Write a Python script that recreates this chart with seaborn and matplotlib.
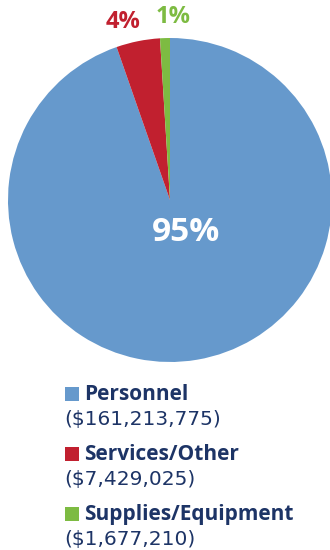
import matplotlib
matplotlib.use("Agg")
import matplotlib.pyplot as plt
import seaborn as sns

categories = ["Personnel", "Services/Other", "Supplies/Equipment"]
amounts = [161213775, 7429025, 1677210]
colors = ["#6699cc", "#c1202f", "#7dbb42"]
navy = "#1d3466"

sns.set_style("white")
plt.rcParams["font.family"] = ["Open Sans", "DejaVu Sans"]

W, H = 330, 550
fig = plt.figure(figsize=(W / 100, H / 100), dpi=100)
ax = fig.add_axes([8 / W, 188 / H, 324 / W, 324 / H])
wedges, _ = ax.pie(amounts, colors=colors, startangle=90, counterclock=False,
                   wedgeprops=dict(linewidth=0))
ax.set_xlim(-1, 1)
ax.set_ylim(-1, 1)
ax.set_aspect("equal")
ax.axis("off")

total = sum(amounts)
pcts = [round(a / total * 100) for a in amounts]
label_pos = [(0.10, -0.20), (-0.29, 1.10), (0.02, 1.13)]
label_size = [24, 17, 17]
label_col = ["white", colors[1], colors[2]]
for p, (x, y), s, c in zip(pcts, label_pos, label_size, label_col):
    ax.text(x, y, f"{p}%", ha="center", va="center", fontsize=s,
            fontweight="bold", color=c, clip_on=False)

# legend drawn as text rows (baselines in pixels from the top)
name_base = [400, 460, 520]
amt_base = [425, 485, 545]
for cat, amt, col, nb, ab in zip(categories, amounts, colors, name_base, amt_base):
    fig.patches.append(plt.Rectangle((65 / W, 1 - (nb + 1) / H), 14 / W, 14 / H,
                                     transform=fig.transFigure, color=col, lw=0))
    fig.text(84 / W, 1 - nb / H, cat, ha="left", va="baseline", fontsize=15,
             fontweight="bold", color=navy)
    fig.text(64 / W, 1 - ab / H, f"(${amt:,})", ha="left", va="baseline",
             fontsize=14.5, color=navy, family=["DejaVu Sans"])

fig.savefig("out.png", dpi=100)
